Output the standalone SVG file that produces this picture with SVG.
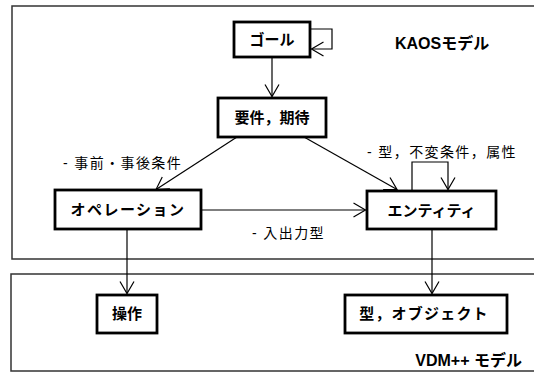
<svg xmlns="http://www.w3.org/2000/svg" width="534" height="372" viewBox="0 0 534 372">
<defs>
<style>
.frame{fill:none;stroke:#333;stroke-width:1.5}
.box{fill:#fff;stroke:#000;stroke-width:2.8}
.bt{font-family:"Liberation Sans","Noto Sans CJK JP",sans-serif;font-weight:bold;font-size:15px;fill:#000;text-anchor:middle}
.lbl{font-family:"Liberation Sans","Noto Sans CJK JP",sans-serif;font-size:14px;fill:#000;letter-spacing:1.4px}
.title{font-family:"Liberation Sans","Noto Sans CJK JP",sans-serif;font-weight:bold;font-size:16px;fill:#000}
.conn{fill:none;stroke:#000;stroke-width:1.2}
</style>
<marker id="arr" markerUnits="userSpaceOnUse" markerWidth="16" markerHeight="20" viewBox="-13 -10 16 20" refX="0" refY="0" orient="auto">
<path d="M-12,-7 L0,0 L-12,7" fill="none" stroke="#000" stroke-width="1.2"/>
</marker>
</defs>
<g id="kaos-frame">
<path class="frame" d="M540,6 H12 V259 H540"/>
<text class="title" x="395" y="49">KAOSモデル</text>
</g>
<g id="vdm-frame">
<path class="frame" d="M540,274 H11 V371 H540"/>
<text class="title" x="522" y="366" text-anchor="end" font-size="15">VDM++ モデル</text>
</g>
<g id="connectors">
<path class="conn" d="M310,29 H332 V49 H311.5" marker-end="url(#arr)"/>
<path class="conn" d="M272,57 V96.5" marker-end="url(#arr)"/>
<path class="conn" d="M237,137 L156,189.5" marker-end="url(#arr)"/>
<path class="conn" d="M304,137 L397,189.5" marker-end="url(#arr)"/>
<path class="conn" d="M412,191 V162 H448 V189.5" marker-end="url(#arr)"/>
<path class="conn" d="M201,210 H365.5" marker-end="url(#arr)"/>
<path class="conn" d="M127,229 V293.5" marker-end="url(#arr)"/>
<path class="conn" d="M432,229 V293.5" marker-end="url(#arr)"/>
<text class="lbl" x="63" y="168">- 事前・事後条件</text>
<text class="lbl" x="367" y="157">- 型，不変条件，属性</text>
<text class="lbl" x="252" y="238">- 入出力型</text>
</g>
<g id="goal">
<rect class="box" x="234" y="22" width="76" height="35"/>
<text class="bt" x="272" y="45">ゴール</text>
</g>
<g id="requirement">
<rect class="box" x="218" y="98" width="108" height="39"/>
<text class="bt" x="272" y="123">要件，期待</text>
</g>
<g id="operation">
<rect class="box" x="55" y="190" width="146" height="39"/>
<text class="bt" x="128" y="215" letter-spacing="1.5">オペレーション</text>
</g>
<g id="entity">
<rect class="box" x="367" y="191" width="129" height="38"/>
<text class="bt" x="431.5" y="215.5">エンティティ</text>
</g>
<g id="sousa">
<rect class="box" x="97" y="295" width="60" height="38"/>
<text class="bt" x="127" y="319">操作</text>
</g>
<g id="type-object">
<rect class="box" x="345" y="295" width="162" height="38"/>
<text class="bt" x="424" y="319" letter-spacing="1.2">型，オブジェクト</text>
</g>
</svg>
